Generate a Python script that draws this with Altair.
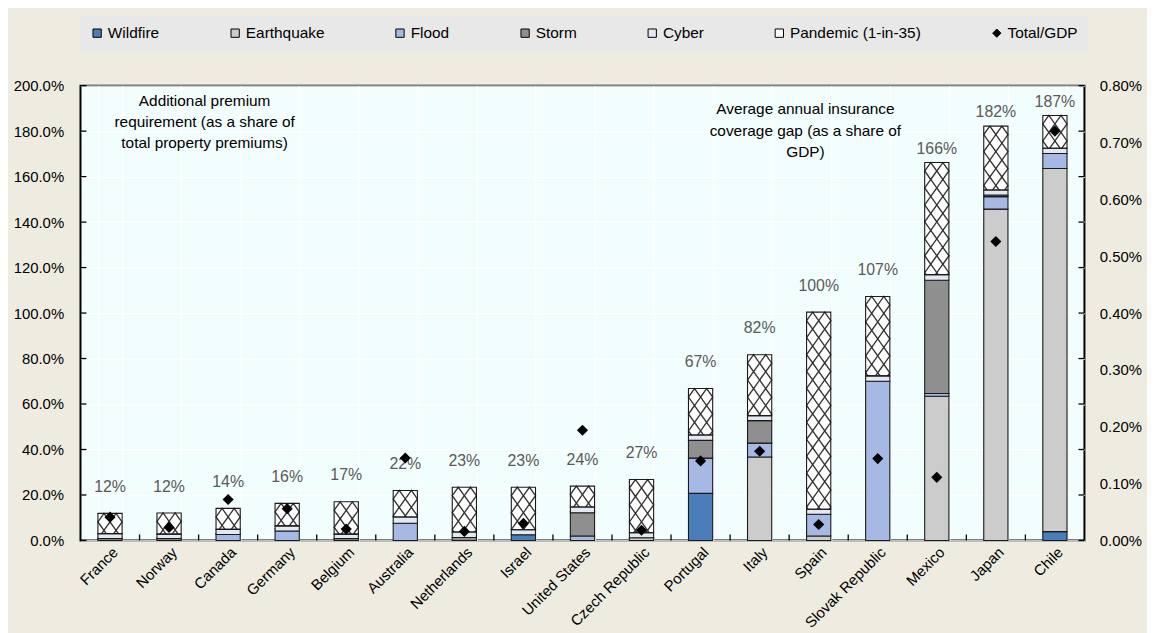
import altair as alt
import pandas as pd

countries = ["France", "Norway", "Canada", "Germany", "Belgium", "Australia",
             "Netherlands", "Israel", "United States", "Czech Republic", "Portugal",
             "Italy", "Spain", "Slovak Republic", "Mexico", "Japan", "Chile"]

# Additional premium requirement, % of total property premiums (left axis)
wildfire   = [0, 0, 0, 0, 0, 0, 0, 2.5, 0, 0, 20.7, 0, 0, 0, 0, 0, 3.9]
earthquake = [0.8, 0.8, 0, 0, 0.8, 0, 0, 0, 0, 1.2, 0, 36.7, 2.0, 0, 63.4, 145.7, 159.7]
flood      = [0, 0, 2.6, 4.2, 0, 7.6, 0, 0, 2.0, 0, 15.5, 6.1, 9.5, 70.0, 1.2, 5.5, 6.6]
storm      = [0, 0, 0, 0, 0, 0, 1.3, 0, 10.2, 0, 7.8, 9.9, 0, 0, 49.8, 0.7, 0]
cyber      = [2.2, 2.0, 2.3, 2.2, 2.0, 2.7, 2.4, 2.2, 2.5, 2.2, 2.4, 2.2, 2.2, 2.4, 2.5, 2.2, 2.3]
pandemic   = [8.9, 9.3, 9.2, 9.9, 14.2, 11.7, 19.7, 18.7, 9.2, 23.4, 20.4, 26.8, 86.7, 34.9, 49.3, 28.1, 14.4]

# Average annual insurance coverage gap, % of GDP (right axis)
total_gdp = [0.041, 0.023, 0.072, 0.056, 0.020, 0.145, 0.016, 0.030, 0.194, 0.018,
             0.140, 0.157, 0.028, 0.144, 0.111, 0.526, 0.720]

series_names = ["Wildfire", "Earthquake", "Flood", "Storm", "Cyber", "Pandemic (1-in-35)"]
legend_names = series_names + ["Total/GDP"]
legend_colors = ["#4A7EBB", "#CCCCCC", "#A6B8E4", "#8F8F8F", "#E3E8F2", "#FFFFFF", "#000000"]
legend_shapes = ["square"] * 6 + ["diamond"]

annotation_left = ["Additional premium", "requirement (as a share of", "total property premiums)"]
annotation_right = ["Average annual insurance", "coverage gap (as a share of", "GDP)"]

y_ticks = list(range(0, 201, 20))
gdp_ticks = [i / 10 for i in range(9)]

# ---- tables built from the arrays ----
lower_series = [wildfire, earthquake, flood, storm, cyber]
rows = []
for i, c in enumerate(countries):
    for j, vals in enumerate(lower_series):
        if vals[i] > 0:
            rows.append({"country": c, "series": series_names[j], "value": vals[i], "idx": j})
seg_df = pd.DataFrame(rows)

base = [sum(s[i] for s in lower_series) for i in range(len(countries))]
cdf = pd.DataFrame({
    "country": countries,
    "base": base,
    "pandemic": pandemic,
    "total": [b + p for b, p in zip(base, pandemic)],
    "gdp": total_gdp,
    "series": ["Total/GDP"] * len(countries),
})
bound_df = pd.DataFrame({"country": countries[1:]})
ytick_df = pd.DataFrame({"v": y_ticks})

# ---- layout / style constants ----
W, H = 1011, 458
PAD_INNER = 0.59
step = W / len(countries)
bar_w = step * (1 - PAD_INNER)
r = bar_w / 4.0
PAT_SIZE = (2 * r) ** 2
CELL = 2 * 1.4 * r * 200.0 / H   # pattern period in data units
DIAMOND_PATH = "M0,-1.4L1,0L0,1.4L-1,0Z"
FONT = "Liberation Sans"
TICK = 6

color_scale = alt.Scale(domain=legend_names, range=legend_colors)
shape_scale = alt.Scale(domain=legend_names, range=legend_shapes)
legend = alt.Legend(title=None, orient="none", legendX=-1, legendY=-71,
                    direction="horizontal", columns=7, fillColor="#E8E8E8",
                    padding=10, columnPadding=68, labelFontSize=15.5,
                    labelFont=FONT, labelColor="black", symbolSize=70,
                    symbolStrokeColor="black", symbolStrokeWidth=1,
                    symbolType="square", labelOffset=3)

x_scale = alt.Scale(domain=countries, paddingInner=PAD_INNER, paddingOuter=PAD_INNER / 2)
x_axis = alt.Axis(labelAngle=-45, grid=True, tickBand="extent",
                  labelPadding=4, labelFontSize=15)
x_enc = alt.X("country:N", title=None, scale=x_scale, axis=x_axis)

y_scale = alt.Scale(domain=[0, 200], nice=False)
y_axis = alt.Axis(values=y_ticks, title=None, grid=True,
                  labelExpr="format(datum.value, '.1f') + '%'", labelPadding=17)
gdp_scale = alt.Scale(domain=[0, 0.8], nice=False)


def yq(field, **kw):
    return alt.Y(field, scale=y_scale, axis=y_axis, title=None, **kw)


pan_bg = alt.Chart(cdf).mark_bar(fill="white").encode(
    x=x_enc, y=yq("base:Q"), y2="total:Q")


def pattern(off):
    return (alt.Chart(cdf)
            .transform_calculate(k=f"sequence(0, ceil(datum.pandemic / {CELL}))")
            .transform_flatten(["k"])
            .transform_calculate(cy=f"datum.total - (datum.k + 0.5) * {CELL}")
            .mark_point(shape=DIAMOND_PATH, size=PAT_SIZE, filled=False,
                        stroke="#333333", strokeWidth=1.35, opacity=1, clip=True)
            .encode(x=x_enc, xOffset=alt.value(off), y=yq("cy:Q")))


segs = alt.Chart(seg_df).mark_bar(stroke="#1A1A1A", strokeWidth=1.1).encode(
    x=x_enc,
    y=yq("value:Q", stack="zero"),
    color=alt.Color("series:N", scale=color_scale, legend=legend),
    order=alt.Order("idx:Q"),
)

pan_outline = alt.Chart(cdf).mark_bar(fill="white", fillOpacity=0, stroke="#1A1A1A",
                                      strokeWidth=1.1).encode(
    x=x_enc, y=yq("base:Q"), y2="total:Q")

labels = (alt.Chart(cdf)
          .transform_calculate(ly="datum.total + (datum.total > 150 ? 3.9 : 9.4)",
                               lt="format(datum.total, '.0f') + '%'")
          .mark_text(baseline="alphabetic", fontSize=16, color="#595959", font=FONT)
          .encode(x=x_enc, y=yq("ly:Q"), text="lt:N"))

# inward tick marks: bottom (category boundaries), left and right
xticks = alt.Chart(bound_df).mark_rule(color="black", strokeWidth=1.3).encode(
    x=x_enc, xOffset=alt.value(-(step - bar_w) / 2),
    y=alt.value(H - TICK), y2=alt.value(H))
lticks = alt.Chart(ytick_df).mark_rule(color="black", strokeWidth=1.3).encode(
    y=yq("v:Q"), x=alt.value(0), x2=alt.value(TICK))
rticks = alt.Chart(ytick_df).mark_rule(color="black", strokeWidth=1.3).encode(
    y=yq("v:Q"), x=alt.value(W - TICK), x2=alt.value(W))

ann_df = pd.DataFrame({"a": [0]})
ann1 = alt.Chart(ann_df).mark_text(text=annotation_left, fontSize=15.5, font=FONT,
                                   color="black", align="center", baseline="middle",
                                   lineHeight=21.5).encode(
    x=alt.value(125), y=alt.value(15))
ann2 = alt.Chart(ann_df).mark_text(text=annotation_right, fontSize=15.5, font=FONT,
                                   color="black", align="center", baseline="middle",
                                   lineHeight=21.5).encode(
    x=alt.value(730), y=alt.value(24))

inner = alt.layer(pan_bg, pattern(r), pattern(3 * r), segs, pan_outline, labels,
                  xticks, lticks, rticks, ann1, ann2)

gdp = alt.Chart(cdf).mark_point(filled=True, size=125, opacity=1).encode(
    x=x_enc,
    y=alt.Y("gdp:Q", scale=gdp_scale, title=None,
            axis=alt.Axis(orient="right", values=gdp_ticks, title=None,
                          grid=False, labelExpr="format(datum.value, '.2f') + '%'",
                          labelPadding=15)),
    color=alt.Color("series:N", scale=color_scale, legend=legend),
    shape=alt.Shape("series:N", scale=shape_scale, legend=legend),
)

chart = (alt.layer(inner, gdp)
         .resolve_scale(y="independent")
         .properties(width=W, height=H, background="#EEECE1")
         .configure_view(fill="#F2FDFD", stroke="black", strokeWidth=2)
         .configure_axis(labelFont=FONT, labelFontSize=15, labelColor="black",
                         gridColor="white", gridWidth=1.2, domain=False, ticks=False))

chart.save("out.html", embed_options={"renderer": "svg", "actions": False})
